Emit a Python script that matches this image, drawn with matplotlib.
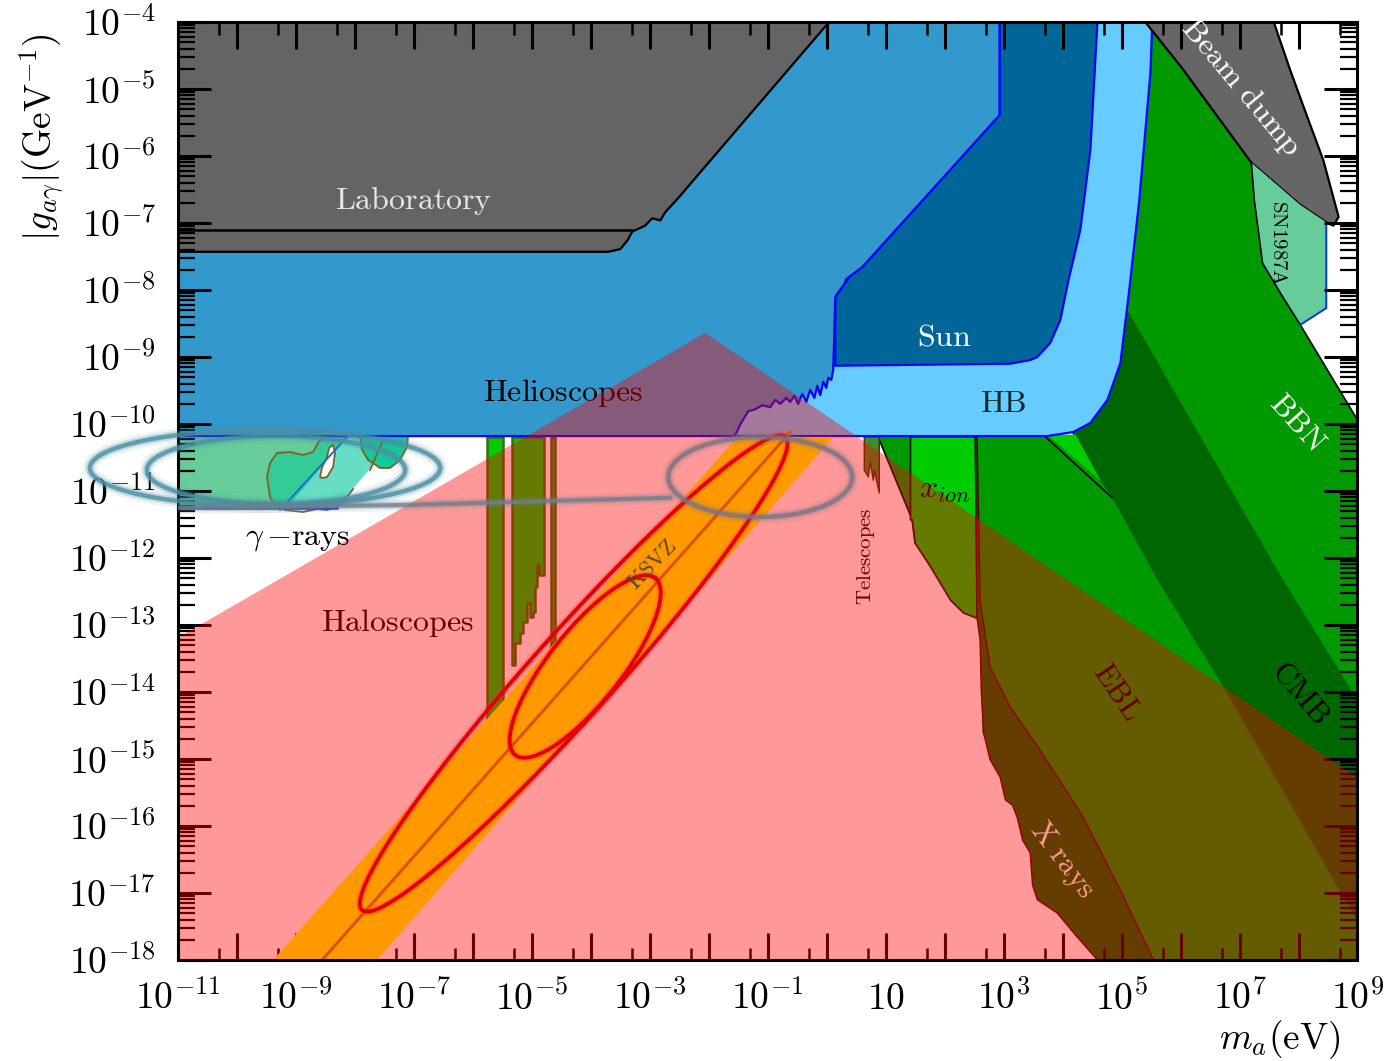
import numpy as np
import matplotlib
matplotlib.use("Agg")
import matplotlib.pyplot as plt
from matplotlib.patches import Polygon
from matplotlib.ticker import FixedLocator, FuncFormatter

plt.rcParams['mathtext.fontset'] = 'cm'
plt.rcParams['font.family'] = ['DejaVu Serif']

# ---------------- data: boundaries as log10(m_a / eV), log10(g / GeV^-1) ----------------
LAB_LOGM = [-11, 0.04, -2.55, -2.74, -2.82, -2.96, -3.08, -3.30, -3.37, -3.50, -3.71, -11]
LAB_LOGG = [-4, -4, -6.66, -6.84, -6.96, -6.93, -7.04, -7.13, -7.25, -7.39, -7.43, -7.43]
LAB_STEP_LOGM = [-11, -3.30]
LAB_STEP_LOGG = [-7.10, -7.10]

HELIO_LOGM = [-11, 2.93, 2.93, 0.60, 0.40, 0.33, 0.30, 0.145, 0.13, 0.11, 0.077, 0.026, -0.008,
              -0.059, -0.11, -0.16, -0.21, -0.28, -0.347, -0.415, -0.483, -0.55, -0.618, -0.686,
              -0.788, -0.873, -0.958, -1.094, -1.21, -1.33, -1.40, -1.47, -1.53, -1.585, -11]
HELIO_LOGG = [-4, -4, -5.39, -7.66, -7.79, -7.84, -7.91, -8.10, -8.60, -9.19, -9.34, -9.31, -9.46,
              -9.37, -9.57, -9.43, -9.61, -9.49, -9.67, -9.55, -9.70, -9.58, -9.67, -9.61,
              -9.70, -9.64, -9.75, -9.72, -9.78, -9.81, -9.91, -10.01, -10.13, -10.18, -10.18]

HB_LOGM = [-1.806, -1.806, 5.52, 5.49, 5.30, 5.13, 4.98, 4.76, 4.47, 4.18, 3.74]
HB_LOGG = [-10.18, -4, -4, -4.75, -6.66, -8.0, -9.09, -9.64, -9.985, -10.12, -10.18]

SUN_LOGM = [2.93, 4.59, 4.47, 4.30, 4.10, 3.96, 3.79, 3.57, 3.45, 3.11, 0.145, 0.145, 0.30, 0.40, 0.60, 2.93]
SUN_LOGG = [-4, -4, -5.91, -7.10, -7.85, -8.45, -8.79, -9.00, -9.045, -9.10, -9.13, -8.10, -7.91, -7.79, -7.66, -5.39]

BEAM_LOGM = [5.40, 6.01, 7.20, 8.03, 8.49, 8.59, 8.68, 8.42, 8.15, 7.86, 7.58]
BEAM_LOGG = [-4, -4.67, -6.10, -6.73, -7.00, -7.04, -6.91, -6.06, -5.42, -4.72, -4]

SN_LOGM = [7.20, 7.25, 7.39, 7.73, 8.03, 8.47, 8.47, 8.49, 8.03]
SN_LOGG = [-6.10, -6.66, -7.60, -8.10, -8.52, -8.27, -7.03, -7.00, -6.73]

BBN_LOGM = [4.64, 5.40, 6.01, 7.20, 7.25, 7.39, 7.73, 8.03, 9.0, 9.0, 4.59, 3.91, 3.57, 3.45, 3.23,
            2.94, 2.64, 2.60, 2.55, 2.32, 2.10, 1.76, 1.50, 1.45, 0.87, 4.64]
BBN_LOGG = [-4, -4, -4.67, -6.10, -6.66, -7.60, -8.10, -8.52, -9.94, -18, -18, -17.30, -17.10, -16.40,
            -15.87, -15.27, -14.61, -13.22, -12.90, -12.82, -12.63, -12.13, -11.78, -11.43, -10.19, -10.19]

CMB_LOGM = [4.64, 5.10, 7.74, 9.0, 9.0, 8.66, 6.76, 5.61, 4.84, 4.64, 4.18, 3.96]
CMB_LOGG = [-8.30, -8.30, -12.33, -14.12, -17.43, -16.91, -13.97, -12.33, -11.10, -10.84, -10.16, -9.94]

TRI_LOGM = [3.74, 4.22, 4.64]
TRI_LOGG = [-10.16, -10.16, -10.84]

XION_LOGM = [1.42, 2.52, 2.55, 2.32, 2.10, 1.76, 1.50, 1.45, 1.42]
XION_LOGG = [-10.19, -10.19, -12.90, -12.82, -12.63, -12.13, -11.78, -11.43, -11.43]

XRAY_LOGM = [2.52, 2.55, 2.60, 2.62, 2.66, 2.77, 2.94, 3.03, 3.15, 3.23, 3.32, 3.45, 3.49, 3.57,
             3.91, 4.22, 4.59, 5.54, 4.98, 4.35, 3.62, 3.11, 2.77, 2.60, 2.55]
XRAY_LOGG = [-10.19, -12.90, -13.22, -13.97, -14.61, -15.01, -15.27, -15.61, -15.69, -15.87, -16.21,
             -16.40, -16.88, -17.10, -17.30, -17.63, -18, -18, -16.96, -15.87, -14.87, -14.22,
             -13.63, -12.63, -10.19]

TEL_LOGM = [0.637, 0.891, 0.891, 0.807, 0.790, 0.739, 0.705, 0.637]
TEL_LOGG = [-10.19, -10.19, -11.03, -10.69, -10.84, -10.57, -10.79, -10.69]

BAR1_LOGM = [-5.758, -5.487, -5.487, -5.758]
BAR1_LOGG = [-10.19, -10.19, -15.12, -15.12]
BAR2_LOGM = [-5.339, -5.339, -5.283, -5.283, -5.198, -5.198, -5.148, -5.148, -5.080, -5.080, -5.029,
             -5.029, -4.978, -4.978, -4.944, -4.944, -4.910, -4.910, -4.876, -4.876, -4.791, -4.791]
BAR2_LOGG = [-10.19, -13.597, -13.597, -13.269, -13.269, -13.119, -13.119, -12.955, -12.955, -12.672,
             -12.672, -12.881, -12.881, -12.806, -12.806, -12.433, -12.433, -12.104, -12.104,
             -12.254, -12.254, -10.19]
BAR3_LOGM = [-4.673, -4.605, -4.605, -4.673]
BAR3_LOGG = [-10.19, -10.19, -13.70, -13.70]

GAMMA_A_LOGM = [-11, -8.133, -9.185, -11]
GAMMA_A_LOGG = [-10.194, -10.194, -11.254, -11.254]
GAMMA_B_LOGM = [-8.133, -7.285, -7.404, -7.624, -7.862, -8.082, -8.286, -8.422, -9.185]
GAMMA_B_LOGG = [-10.194, -10.194, -10.313, -10.537, -10.791, -11.015, -11.209, -11.284, -11.269]
BLOB1_LOGM = [-9.439, -9.490, -9.439, -9.321, -9.100, -8.880, -8.710, -8.625, -8.540, -8.133, -9.185, -9.338]
BLOB1_LOGG = [-11.09, -10.791, -10.582, -10.433, -10.418, -10.463, -10.418, -10.284, -10.194, -10.194, -11.284, -11.239]
BLOB1_EDGE_LOGM = [-8.540, -8.625, -8.710, -8.880, -9.100, -9.321, -9.439, -9.490, -9.439, -9.338,
                   -9.185, -8.880, -8.642, -8.472, -8.303, -8.133, -8.031]
BLOB1_EDGE_LOGG = [-10.194, -10.284, -10.418, -10.463, -10.418, -10.433, -10.582, -10.791, -11.09,
                   -11.239, -11.284, -11.313, -11.269, -11.284, -11.239, -11.090, -10.970]
HOLE_LOGM = [-8.591, -8.557, -8.472, -8.439, -8.371, -8.337, -8.371, -8.472, -8.557]
HOLE_LOGG = [-10.791, -10.642, -10.493, -10.358, -10.313, -10.433, -10.642, -10.791, -10.806]
BLOB2_LOGM = [-7.913, -7.879, -7.777, -7.573, -7.404, -7.234, -7.115, -7.098]
BLOB2_LOGG = [-10.179, -10.388, -10.537, -10.657, -10.657, -10.537, -10.343, -10.164]

HALO_LOGM = [-11, -2.06, 8.54, 9.0, 9.0, -11]
HALO_LOGG = [-13.19, -8.64, -15.01, -15.28, -18, -18]

KSVZ_BAND_LOGM = [-9.388, -7.624, 0.111, -1.517]
KSVZ_BAND_LOGG = [-18, -18, -10.194, -10.194]
KSVZ_LINE_LOGM = [-8.557, -0.618]
KSVZ_LINE_LOGG = [-18, -10.12]

# red ellipses: (tip1, tip2, minor/major ratio)
RED_ELLIPSES = [((-7.879, -17.254), (-0.703, -10.194), 0.13),
                ((-5.283, -14.94), (-2.908, -12.30), 0.32)]
# swirl ellipses: centre (log m, log g), half-extent in decades
TEAL_SWIRLS = [((-9.524, -10.657), (2.97, 0.567)),
               ((-9.338, -10.687), (2.19, 0.507))]
GRAY_SWIRL = ((-1.127, -10.791), (1.56, 0.597))
TAIL_LOGM = [-10.97, -7.2, -2.654]
TAIL_LOGG = [-11.25, -11.21, -11.10]

X_TICK_EXP = list(range(-11, 10))
Y_TICK_EXP = list(range(-18, -3))

# labels: text, log m, log g, rotation, colour, size, zorder
LABELS = [
    (r'$\mathrm{Laboratory}$', -6.997, -6.672, 0, '#e6e6e6', 23, 3),
    (r'$\mathrm{Helioscopes}$', -4.469, -9.537, 0, 'black', 23, 1.8),
    (r'$\mathrm{Sun}$', 1.994, -8.70, 0, 'white', 23, 3),
    (r'$\mathrm{HB}$', 2.995, -9.687, 0, '#0d2b2b', 23, 3),
    (r'$\mathrm{Haloscopes}$', -7.285, -12.97, 0, 'black', 23, 1.8),
    (r'$\gamma\,{-}\mathrm{rays}$', -8.981, -11.687, 0, 'black', 23, 3),
    (r'$\mathrm{Telescopes}$', 0.671, -11.97, 90, 'black', 15, 1.8),
    (r'$x_{ion}$', 1.994, -10.985, 0, 'black', 23, 1.8),
    (r'$\mathrm{EBL}$', 4.929, -14.0, -56, 'black', 22, 1.8),
    (r'$\mathrm{X\ rays}$', 3.996, -16.51, -53, 'white', 22, 1.8),
    (r'$\mathrm{CMB}$', 8.033, -14.0, -50, 'black', 22, 3),
    (r'$\mathrm{BBN}$', 7.98, -9.985, -48, 'white', 22, 3),
    (r'$\mathrm{Beam\ dump}$', 7.015, -4.985, -50, 'white', 23, 3),
    (r'$\mathrm{SN1987A}$', 7.66, -7.30, -90, 'black', 15, 3),
    (r'$\mathrm{KSVZ}$', -2.959, -12.10, 46, '#55422a', 16, 2.3),
]

# ---------------- figure ----------------
fig = plt.figure(figsize=(13.89, 10.61), dpi=100)
ax = fig.add_axes([0.12815, 0.0952, 0.84917, 0.88406])
ax.set_xscale('log')
ax.set_yscale('log')
ax.set_xlim(1e-11, 1e9)
ax.set_ylim(1e-18, 1e-4)


def P(lm, lg):
    return 10.0 ** np.asarray(lm, float), 10.0 ** np.asarray(lg, float)


def region(lm, lg, fc, ec='none', lw=0.0, z=1.0, alpha=1.0):
    x, y = P(lm, lg)
    ax.add_patch(Polygon(np.column_stack([x, y]), closed=True, fc=fc, ec=ec, lw=lw,
                         zorder=z, alpha=alpha, joinstyle='round'))


def line(lm, lg, **kw):
    x, y = P(lm, lg)
    ax.plot(x, y, **kw)


# green cosmology / astro regions
region(BBN_LOGM, BBN_LOGG, '#009900', z=1.00)
line([8.03, 9.0], [-8.52, -9.94], color='black', lw=1.2, zorder=1.01)
line([0.87, 1.45, 1.50], [-10.19, -11.43, -11.78], color='black', lw=1.2, zorder=1.01)
region(CMB_LOGM, CMB_LOGG, '#006600', z=1.01)
region(TRI_LOGM, TRI_LOGG, '#00cc00', z=1.02)
line([3.67, 4.84], [-10.16, -11.10], color='black', lw=1.2, zorder=1.02)
region(XION_LOGM, XION_LOGG, '#00cc00', ec='#1a1a1a', lw=1.3, z=1.03)
region(XRAY_LOGM, XRAY_LOGG, '#006600', ec='#550000', lw=1.0, z=1.04)
region(TEL_LOGM, TEL_LOGG, '#3a8f2a', ec='#4a3000', lw=1.0, z=1.05)

# haloscope experiments
for lm, lg in [(BAR1_LOGM, BAR1_LOGG), (BAR2_LOGM, BAR2_LOGG), (BAR3_LOGM, BAR3_LOGG)]:
    region(lm, lg, '#00cc00', ec='#3d6b10', lw=1.8, z=1.06)

# gamma rays
region(GAMMA_A_LOGM, GAMMA_A_LOGG, '#66cc99', z=1.07)
region(GAMMA_B_LOGM, GAMMA_B_LOGG, '#66ddc4', z=1.07)
region(BLOB1_LOGM, BLOB1_LOGG, '#33cc99', z=1.075)
region(BLOB2_LOGM, BLOB2_LOGG, '#11cc99', ec='#806020', lw=1.3, z=1.076)
line(BLOB1_EDGE_LOGM, BLOB1_EDGE_LOGG, color='#806020', lw=1.3, zorder=1.077)
region(HOLE_LOGM, HOLE_LOGG, 'white', ec='#806020', lw=1.3, z=1.078)
line([-7.743, -7.523], [-10.687, -10.239], color='#806020', lw=1.3, zorder=1.078)
line([-11, -8.303], [-11.254, -11.254], color='#0033ff', lw=1.8, zorder=1.079)
line([-9.27, -8.133], [-11.284, -10.194], color='#1166dd', lw=1.3, zorder=1.079)

# stellar / helioscopes / laboratory
region(HB_LOGM, HB_LOGG, '#66ccff', ec='#0000ff', lw=1.6, z=1.10)
region(SUN_LOGM, SUN_LOGG, '#006699', ec='#0000ff', lw=1.6, z=1.11)
region(HELIO_LOGM, HELIO_LOGG, '#3399cc', ec='#0000ff', lw=1.6, z=1.12)
region(LAB_LOGM, LAB_LOGG, '#646464', ec='black', lw=1.6, z=1.13)
line(LAB_STEP_LOGM, LAB_STEP_LOGG, color='black', lw=1.8, zorder=1.14)
region(BEAM_LOGM, BEAM_LOGG, '#666666', ec='black', lw=1.6, z=1.14)
region(SN_LOGM, SN_LOGG, '#66cc99', z=1.15)
line(SN_LOGM[0:5], SN_LOGG[0:5], color='black', lw=1.2, zorder=1.16)
line(SN_LOGM[4:8], SN_LOGG[4:8], color='#0033ff', lw=1.4, zorder=1.16)

# haloscope overlay (semi-transparent)
region(HALO_LOGM, HALO_LOGG, '#ff0000', z=2.0, alpha=0.4)

# KSVZ band and predictions
region(KSVZ_BAND_LOGM, KSVZ_BAND_LOGG, '#ff9900', z=2.1)
line(KSVZ_LINE_LOGM, KSVZ_LINE_LOGG, color='#e05000', lw=2.2, zorder=2.15)


def tilted_ellipse(tip1, tip2, ratio, n=300):
    p1 = ax.transData.transform((10.0 ** tip1[0], 10.0 ** tip1[1]))
    p2 = ax.transData.transform((10.0 ** tip2[0], 10.0 ** tip2[1]))
    c = (p1 + p2) / 2.0
    d = (p2 - p1) / 2.0
    a = np.hypot(*d)
    u = d / a
    v = np.array([-u[1], u[0]])
    t = np.linspace(0, 2 * np.pi, n)
    pts = c + np.outer(a * np.cos(t), u) + np.outer(ratio * a * np.sin(t), v)
    return ax.transData.inverted().transform(pts)


for tip1, tip2, ratio in RED_ELLIPSES:
    pts = tilted_ellipse(tip1, tip2, ratio)
    ax.plot(pts[:, 0], pts[:, 1], color='#ff3030', lw=6, alpha=0.25, zorder=2.2)
    ax.plot(pts[:, 0], pts[:, 1], color='#e60000', lw=2.8, zorder=2.21)


def swirl(centre, half, color):
    t = np.linspace(0, 2 * np.pi, 300)
    x, y = P(centre[0] + half[0] * np.cos(t), centre[1] + half[1] * np.sin(t))
    for lw, al in [(10, 0.10), (6, 0.25), (3.2, 0.8)]:
        ax.plot(x, y, color=color, lw=lw, alpha=al, zorder=4, clip_on=False,
                solid_capstyle='round')


for c, h in TEAL_SWIRLS:
    swirl(c, h, '#4a8fa3')
swirl(GRAY_SWIRL[0], GRAY_SWIRL[1], '#7d7383')
tx, ty = P(TAIL_LOGM, TAIL_LOGG)
for lw, al in [(9, 0.10), (5.5, 0.25), (3, 0.8)]:
    ax.plot(tx, ty, color='#6f7f8d', lw=lw, alpha=al, zorder=4, solid_capstyle='round')

# labels
for txt, lm, lg, rot, col, size, z in LABELS:
    ax.text(10.0 ** lm, 10.0 ** lg, txt, rotation=rot, color=col, fontsize=size,
            ha='center', va='center', zorder=z, rotation_mode='anchor')

# axes styling
ax.xaxis.set_major_locator(FixedLocator([10.0 ** e for e in X_TICK_EXP]))
ax.xaxis.set_minor_locator(FixedLocator([5 * 10.0 ** e for e in range(-12, 9)]))
ax.yaxis.set_major_locator(FixedLocator([10.0 ** e for e in Y_TICK_EXP]))
ax.yaxis.set_minor_locator(FixedLocator([k * 10.0 ** e for e in range(-19, -4) for k in range(2, 10)]))


def fx(v, pos):
    e = int(round(np.log10(v)))
    if e % 2 == 0:
        return ''
    if e == 1:
        return r'$10$'
    return r'$10^{%d}$' % e


def fy(v, pos):
    e = int(round(np.log10(v)))
    return r'$10^{%d}$' % e


ax.xaxis.set_major_formatter(FuncFormatter(fx))
ax.yaxis.set_major_formatter(FuncFormatter(fy))
ax.xaxis.set_minor_formatter(FuncFormatter(lambda v, p: ''))
ax.yaxis.set_minor_formatter(FuncFormatter(lambda v, p: ''))

ax.tick_params(axis='both', which='both', direction='in', top=True, right=True,
               labelsize=27, color='black')
ax.tick_params(axis='y', which='major', length=24, width=2.2, pad=16)
ax.tick_params(axis='y', which='minor', length=12, width=1.6)
ax.tick_params(axis='x', which='major', length=19.5, width=2.2, pad=15)
ax.tick_params(axis='x', which='minor', length=9, width=1.8)
for s in ax.spines.values():
    s.set_linewidth(2.2)
    s.set_zorder(2.5)

fig.text(0.9215, 0.0198, r'$m_a(\mathrm{eV})$', fontsize=27, ha='center', va='center')
fig.text(0.030, 0.871, r'$|g_{a\gamma}|(\mathrm{GeV}^{-1})$', rotation=90, fontsize=27,
         ha='center', va='center')

fig.savefig('out.png', dpi=100)
